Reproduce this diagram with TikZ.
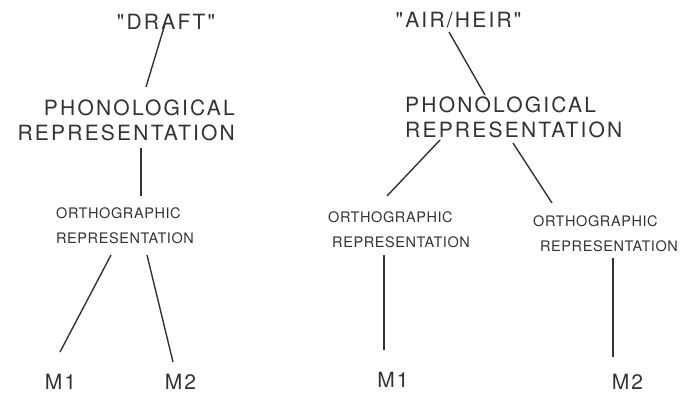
\documentclass[tikz,border=0pt]{standalone}
\usepackage{fontspec}
\usepackage{xcolor}
\usepackage{tikz}
\usetikzlibrary{calc}
\setmainfont{TeX Gyre Heros}
\newfontfamily\bigfont[LetterSpace=10.5]{TeX Gyre Heros}
\newfontfamily\smallfont[LetterSpace=4]{TeX Gyre Heros}
\definecolor{ink}{gray}{0.2}
\tikzset{
    bigtxt/.style={inner sep=0pt, text=ink, font=\bigfont\fontsize{21}{25}\selectfont},
    smalltxt/.style={inner sep=0pt, text=ink, font=\smallfont\fontsize{14.5}{25}\selectfont},
    link/.style={draw=ink, line width=1.4pt}}

\begin{document}
\begin{tikzpicture}[x=1pt,y=-1pt]
    \useasboundingbox (0,0) rectangle (682,394);
    % left tree
    \node (draftL)[bigtxt] at (166,21.5) {"DRAFT"};
    \node (phonL)[bigtxt,align=right,anchor=east] at (235,120) {PHONOLOGICAL\\REPRESENTATION};
    \node (orthL)[smalltxt,align=left,anchor=west] at (56,226) {ORTHOGRAPHIC\\REPRESENTATION};
    \node (m1L)[bigtxt] at (60.5,382) {M1};
    \node (m2L)[bigtxt] at (180.5,382) {M2};

    % right tree
    \node (airR)[bigtxt] at (458.5,20.5) {"AIR/HEIR"};
    \node (phonR)[bigtxt,align=left,anchor=west] at (405,117.5) {PHONOLOGICAL\\REPRESENTATION};
    \node (orthRa)[smalltxt,align=left,anchor=west] at (328,230) {ORTHOGRAPHIC\\\hspace*{4pt}REPRESENTATION};
    \node (orthRb)[smalltxt,align=left,anchor=west] at (533,233.5) {ORTHOGRAPHIC\\\hspace*{7pt}REPRESENTATION};
    \node (m1R)[bigtxt] at (393,380) {M1};
    \node (m2R)[bigtxt] at (627.5,381.5) {M2};

    \draw[link] ([shift={(-1,2.5)}]draftL.center) -- ([shift={(-89,-33)}]phonL.east);
    \draw[link] ([shift={(-94,28)}]phonL.east) -- ([shift={(85,-30)}]orthL.west);
    \draw[link] ([shift={(55,29)}]orthL.west) -- ([shift={(-0.5,-30)}]m1L.center);
    \draw[link] ([shift={(91,29)}]orthL.west) -- ([shift={(-7.5,-20)}]m2L.center);

    \draw[link] ([shift={(-9.5,11.5)}]airR.center) -- ([shift={(80,-22.5)}]phonR.west);
    \draw[link] ([shift={(35,22.5)}]phonR.west) -- ([shift={(59,-34)}]orthRa.west);
    \draw[link] ([shift={(108,25.5)}]phonR.west) -- ([shift={(19,-30.5)}]orthRb.west);
    \draw[link] ([shift={(56,25)}]orthRa.west) -- ([shift={(-9,-30)}]m1R.center);
    \draw[link] ([shift={(80,24.5)}]orthRb.west) -- ([shift={(-14.5,-24.5)}]m2R.center);
\end{tikzpicture}
\end{document}
